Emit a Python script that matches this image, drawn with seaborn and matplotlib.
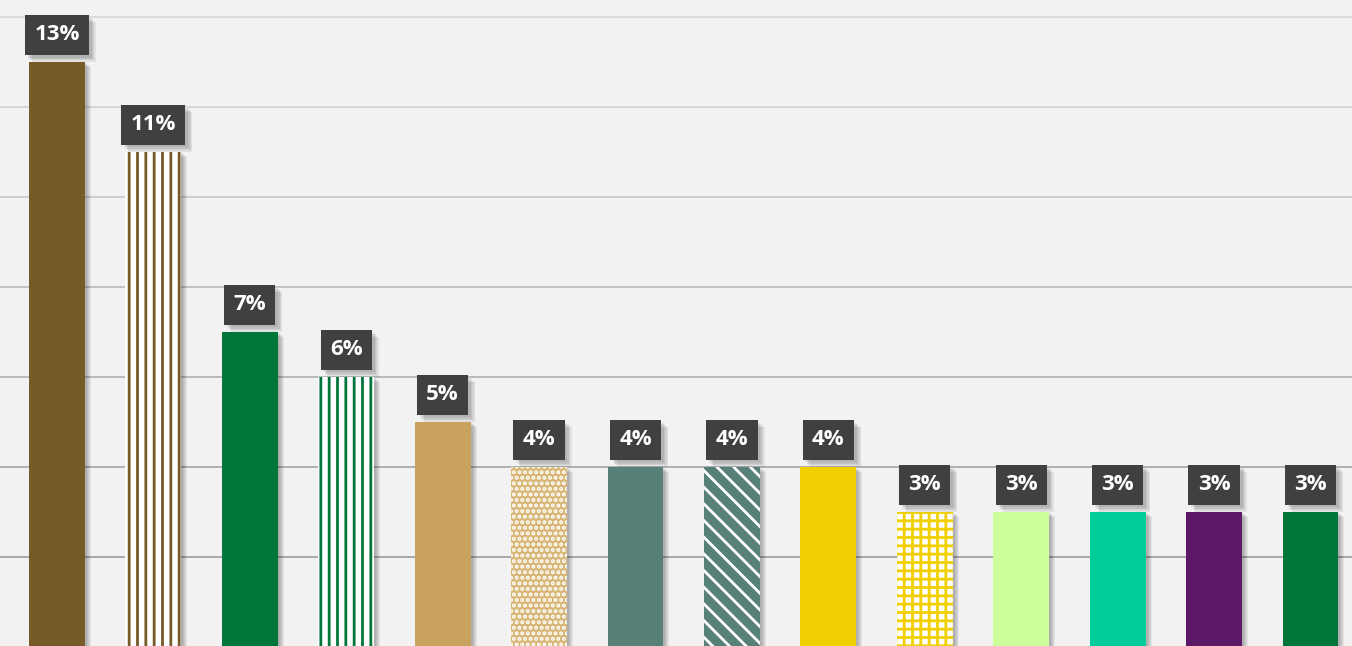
import matplotlib
matplotlib.use("Agg")
import matplotlib.pyplot as plt
import matplotlib.patheffects as pe
import matplotlib.transforms as mtransforms
import seaborn as sns
import pandas as pd

# data
categories = ["A", "B", "C", "D", "E", "F", "G", "H", "I", "J", "K", "L", "M", "N"]
values = [0.13, 0.11, 0.07, 0.06, 0.05, 0.04, 0.04, 0.04, 0.04, 0.03, 0.03, 0.03, 0.03, 0.03]
labels = ["13%", "11%", "7%", "6%", "5%", "4%", "4%", "4%", "4%", "3%", "3%", "3%", "3%", "3%"]

# styling per bar: face, hatch colour, hatch
faces = ["#765a28", "white", "#00773a", "white", "#c9a35e", "#d8b676", "#578178",
         "#578178", "#f0d000", "white", "#ccff99", "#00cc99", "#5c1a66", "#00773a"]
hatch_cols = [None, "#765a28", None, "#00773a", None, "white", None,
              "white", None, "#f0d000", None, None, None, None]
hatches = [None, "||", None, "||", None, "...", None,
           "\\\\", None, "++", None, None, None, None]

grid_vals = [0.02, 0.04, 0.06, 0.08, 0.10, 0.12, 0.14]
grid_cols = ["#a3a3a3", "#aaaaaa", "#b4b4b4", "#bebebe", "#cbcbcb", "#d3d3d3", "#dadada"]

df = pd.DataFrame({"cat": categories, "val": values})

plt.rcParams["hatch.linewidth"] = 2.0
fig = plt.figure(figsize=(13.52, 6.46), dpi=100, facecolor="#f2f2f2")
ax = fig.add_axes([0, 0, 1, 1])
ax.set_facecolor("#f2f2f2")

sns.barplot(data=df, x="cat", y="val", hue="cat", palette=faces, width=0.58,
            legend=False, ax=ax, saturation=1, zorder=3)

# soft drop shadow: same bars, shifted a few pixels, faint
for o in (6, 5, 4, 3, 2):
    tr = mtransforms.offset_copy(ax.transData, fig=fig, x=o, y=-o + 1, units="dots")
    ax.bar(range(len(values)), values, width=0.58, color="black", alpha=0.06,
           lw=0, transform=tr, zorder=2)

for i, bar in enumerate(ax.patches[:len(values)]):
    bar.set_linewidth(0)
    if hatches[i]:
        bar.set_hatch(hatches[i])
        bar.set_edgecolor(hatch_cols[i])

for g, c in zip(grid_vals, grid_cols):
    ax.axhline(g, color=c, lw=1.3, zorder=1)

box_shadow = [pe.SimplePatchShadow(offset=(o, -o), shadow_rgbFace="#000000", alpha=0.07)
              for o in (5, 4, 3, 2)] + [pe.Normal()]
for i, cont in enumerate(ax.containers[:len(values)]):
    txts = ax.bar_label(cont, labels=[labels[i]],
                        padding=12, color="white", fontsize=16, fontweight="bold",
                        family="Open Sans",
                        bbox=dict(boxstyle="square,pad=0.42", fc="#404040", lw=0),
                        zorder=5)
    for t in txts:
        t.get_bbox_patch().set_path_effects(box_shadow)

ax.set_xlim(-0.59, 13.43)
ax.set_ylim(0.0002, 0.1438)
ax.set_xlabel("")
ax.set_ylabel("")
ax.set_xticks([])
ax.set_yticks([])
for s in ax.spines.values():
    s.set_visible(False)

fig.savefig("out.png", dpi=100, facecolor=fig.get_facecolor())
